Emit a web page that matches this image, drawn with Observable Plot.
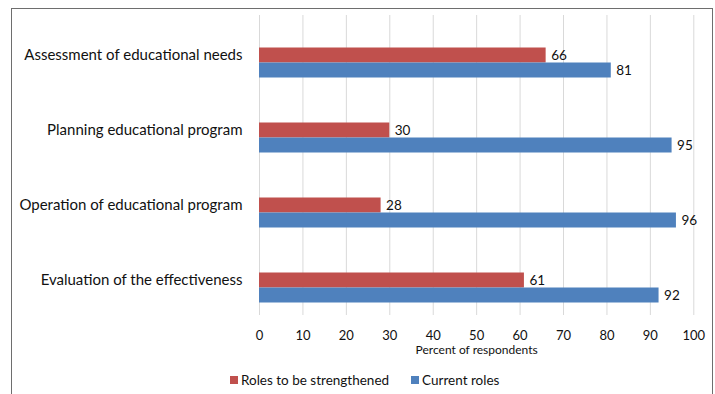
<!DOCTYPE html>
<html>
<head>
<meta charset="utf-8">
<script src="https://cdn.jsdelivr.net/npm/d3@7"></script>
<script src="https://cdn.jsdelivr.net/npm/@observablehq/plot@0.6"></script>
<style>
  html, body { margin: 0; padding: 0; background: #fff; }
  body { width: 715px; height: 394px; position: relative; overflow: hidden; font-family: Lato, "Open Sans", sans-serif; }
  #frame { position: absolute; left: 11px; top: 8px; width: 702px; height: 420px; border: 1.5px solid #6e6e6e; box-sizing: border-box; }
  #chart { position: absolute; left: 0; top: 0; }
  #legend { position: absolute; top: 372px; left: 230px; display: flex; gap: 22px; font-size: 13.5px; color: #111; }
  #legend .item { display: flex; align-items: center; gap: 3px; }
  #legend .sw { width: 8px; height: 8px; display: inline-block; }
</style>
</head>
<body>
<div id="frame"></div>
<div id="chart"></div>
<div id="legend"></div>
<script>
const categories = [
  "Assessment of educational needs",
  "Planning educational program",
  "Operation of educational program",
  "Evaluation of the effectiveness"
];
const seriesNames = ["Roles to be strengthened", "Current roles"];
const seriesColors = ["#C0504D", "#4F81BD"];
const strengthened = [66, 30, 28, 61];
const current = [81, 95, 96, 92];
const xTicks = [0, 10, 20, 30, 40, 50, 60, 70, 80, 90, 100];
const axisTitle = "Percent of respondents";

const redData = categories.map((c, i) => ({category: c, value: strengthened[i]}));
const blueData = categories.map((c, i) => ({category: c, value: current[i]}));

const plot = Plot.plot({
  width: 715,
  height: 365,
  marginLeft: 259,
  marginRight: 21.7,
  marginTop: 15,
  marginBottom: 50,
  style: { fontFamily: "Lato, 'Open Sans', sans-serif", color: "#111", background: "transparent" },
  x: { domain: [0, 100], ticks: xTicks, label: null },
  y: { domain: categories, range: [24.5, 324.5], padding: 0, axis: null },
  marks: [
    Plot.gridX(xTicks, { stroke: "#d9d9d9", strokeOpacity: 1 }),
    Plot.barX(redData, { x: "value", y: "category", fill: seriesColors[0], insetTop: 22.5, insetBottom: 37.5 }),
    Plot.barX(blueData, { x: "value", y: "category", fill: seriesColors[1], insetTop: 37.5, insetBottom: 22.5 }),
    Plot.text(redData, { x: "value", y: "category", text: d => String(d.value), dx: 5, dy: -7.5, textAnchor: "start", fontSize: 13.5, fill: "#111" }),
    Plot.text(blueData, { x: "value", y: "category", text: d => String(d.value), dx: 5, dy: 7.5, textAnchor: "start", fontSize: 13.5, fill: "#111" }),
    Plot.text(categories, { y: d => d, frameAnchor: "left", textAnchor: "end", dx: -17, dy: -8, fontSize: 15, fill: "#111" }),
    Plot.axisX(xTicks, { tickSize: 0, tickPadding: 15, fontSize: 13, label: null, fill: "#111" }),
    Plot.text([axisTitle], { frameAnchor: "bottom", dy: 38, fontSize: 12, fill: "#111" })
  ]
});
document.getElementById("chart").appendChild(plot);

const legend = document.getElementById("legend");
seriesNames.forEach((name, i) => {
  const item = document.createElement("span");
  item.className = "item";
  const sw = document.createElement("span");
  sw.className = "sw";
  sw.style.background = seriesColors[i];
  item.appendChild(sw);
  item.appendChild(document.createTextNode(name));
  legend.appendChild(item);
});
</script>
</body>
</html>
